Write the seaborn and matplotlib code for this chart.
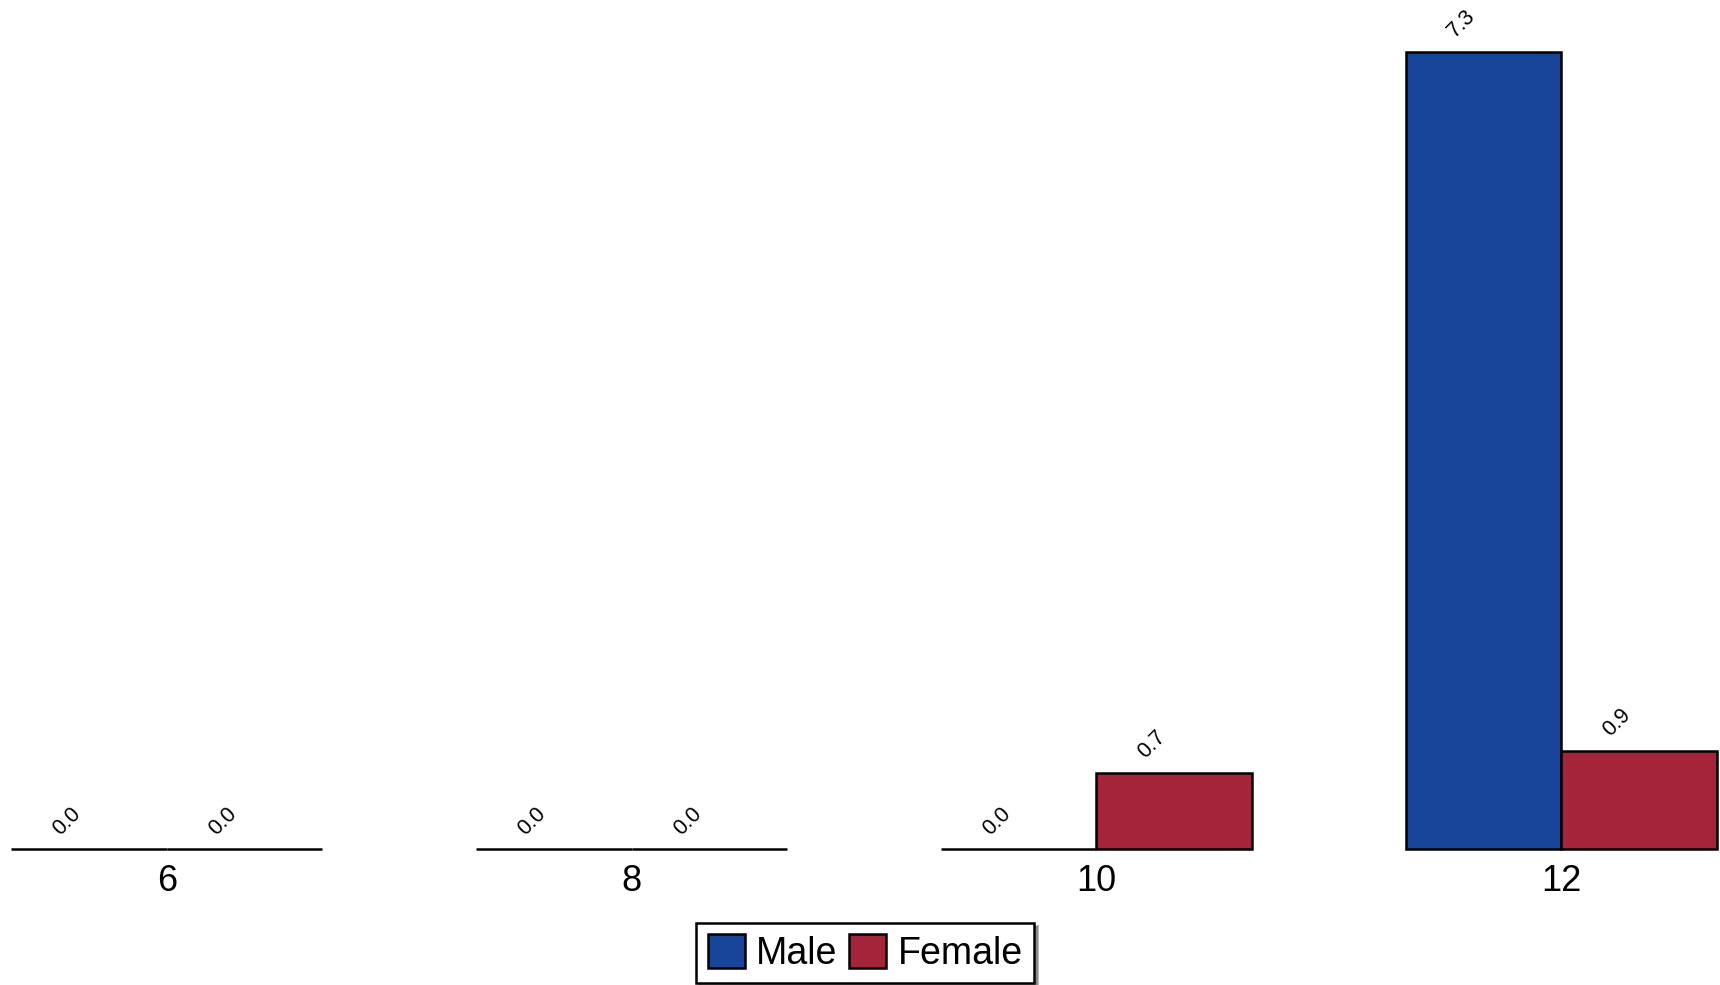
import numpy as np
import pandas as pd
import matplotlib
matplotlib.use("Agg")
import matplotlib.pyplot as plt
import seaborn as sns
from matplotlib.patches import Patch

# --- DATA ---
ages = ["6", "8", "10", "12"]
male = [0.0, 0.0, 0.0, 7.3]
female = [0.0, 0.0, 0.7, 0.9]
groups = ["Male", "Female"]
colors = ["#184599", "#A4253A"]

df = pd.DataFrame({
    "age": ages * 2,
    "value": male + female,
    "sex": ["Male"] * len(ages) + ["Female"] * len(ages),
})

sns.set_style("white")
plt.rcParams['font.family'] = ['Liberation Sans', 'DejaVu Sans']
plt.rcParams['text.color'] = 'black'
plt.rcParams['xtick.color'] = 'black'
plt.rcParams['xtick.labelcolor'] = 'black'

fig = plt.figure(figsize=(17.2, 9.85), dpi=100)
ax = fig.add_axes([11 / 1720, 136 / 985, 1706 / 1720, 849 / 985])

sns.barplot(data=df, x="age", y="value", hue="sex", order=ages, hue_order=groups,
            palette=colors, width=0.67, saturation=1, edgecolor="black",
            linewidth=1.8, legend=False, ax=ax)

# value labels, rotated; keep zero-height bars fully visible
for bar in ax.patches:
    bar.set_clip_on(False)
    h = bar.get_height()
    if np.isnan(h):
        continue
    cx = bar.get_x() + bar.get_width() / 2
    ax.annotate(f"{h:.1f}", xy=(cx, h), xytext=(-22, 28), textcoords="offset pixels",
                ha="center", va="center", rotation=45, fontsize=15.5, color="black")

ax.set_xlim(-0.335, 3.335)
ax.set_ylim(0, 7.775)
ax.set_xlabel("")
ax.set_ylabel("")
ax.set_yticks([])
ax.tick_params(axis="x", length=0, pad=11, labelsize=26, labelcolor="black")
for s in ax.spines.values():
    s.set_visible(False)

handles = [Patch(facecolor=c, edgecolor="black", linewidth=1.8) for c in colors]
leg = fig.legend(handles, groups, loc="lower center", bbox_to_anchor=(0.503, -0.002),
                 ncol=2, fontsize=27, frameon=True, fancybox=False, shadow=True,
                 handlelength=1.0, handleheight=1.0, handletextpad=0.3,
                 columnspacing=0.3, borderpad=0.3, borderaxespad=0.1)
leg.get_frame().set_edgecolor("black")
leg.get_frame().set_linewidth(1.8)
for t in leg.get_texts():
    t.set_color("black")

plt.savefig("out.png", dpi=100)
